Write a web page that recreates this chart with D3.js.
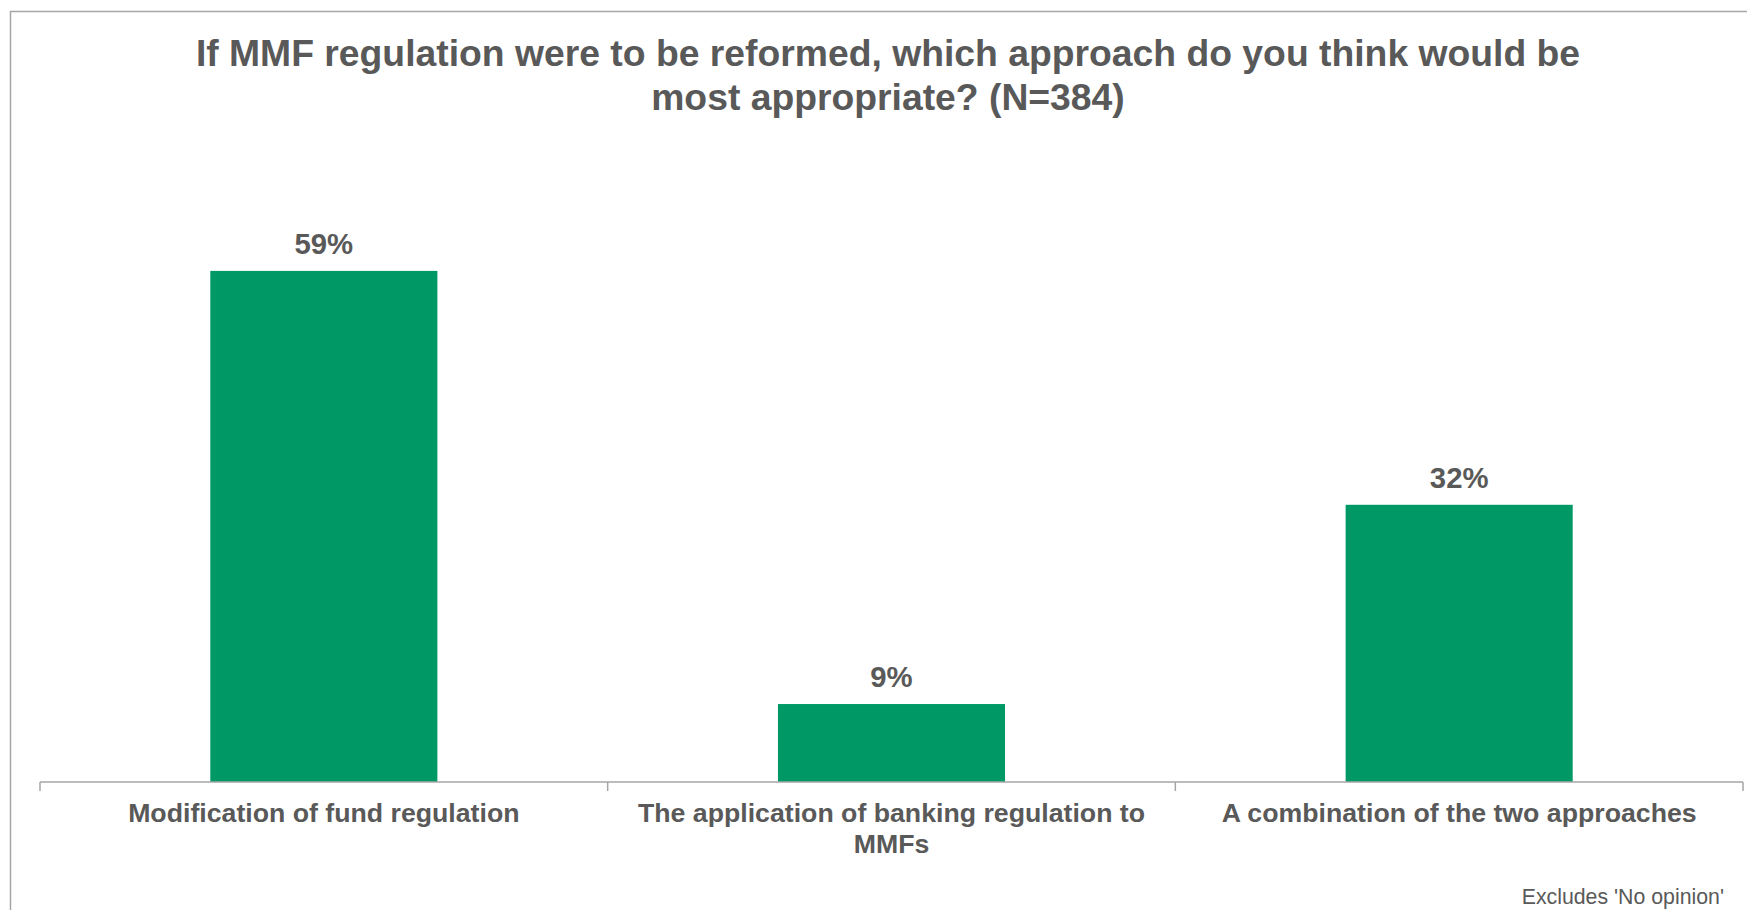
<!DOCTYPE html>
<html>
<head>
<meta charset="utf-8">
<script src="https://cdn.jsdelivr.net/npm/d3@7"></script>
<style>
  body { margin: 0; background: #fff; }
  svg { display: block; font-family: "Liberation Sans", Arial, sans-serif; }
</style>
</head>
<body>
<div id="chart"></div>
<script>
const titleLines = ['If MMF regulation were to be reformed, which approach do you think would be', 'most appropriate? (N=384)'];
const categories = ['Modification of fund regulation', 'The application of banking regulation to MMFs', 'A combination of the two approaches'];
const values = [59, 9, 32];
const footnote = "Excludes 'No opinion'";

const W = 1747, H = 910;
const margin = { top: 173, right: 4, bottom: 128, left: 40 };
const width = W - margin.left - margin.right;
const height = H - margin.top - margin.bottom;
const textColor = '#595959';

const svg = d3.select('#chart')
  .append('svg')
  .attr('width', W)
  .attr('height', H);

// outer frame (only top and left edges are visible in the picture)
svg.append('path')
  .attr('d', 'M10.5,' + H + ' V11.5 H' + W)
  .attr('fill', 'none')
  .attr('stroke', '#a6a6a6')
  .attr('stroke-width', 1.5);

svg.append('text')
  .attr('x', 888)
  .attr('y', 66)
  .attr('text-anchor', 'middle')
  .attr('fill', textColor)
  .style('font-size', '37.3px')
  .style('font-weight', 'bold')
  .selectAll('tspan')
  .data(titleLines)
  .join('tspan')
  .attr('x', 888)
  .attr('dy', (d, i) => i === 0 ? 0 : 44)
  .text(d => d);

const g = svg.append('g')
  .attr('transform', 'translate(' + margin.left + ', ' + margin.top + ')');

const x = d3.scaleBand()
  .domain(categories)
  .range([0, width])
  .padding(0);

const y = d3.scaleLinear()
  .domain([0, 70.3])
  .range([height, 0]);

const barW = x.bandwidth() * 0.4;

g.selectAll('.bar')
  .data(values)
  .join('rect')
  .attr('class', 'bar')
  .attr('x', (d, i) => x(categories[i]) + (x.bandwidth() - barW) / 2)
  .attr('y', d => y(d))
  .attr('width', barW)
  .attr('height', d => height - y(d))
  .attr('fill', '#009966');

g.selectAll('.val')
  .data(values)
  .join('text')
  .attr('class', 'val')
  .attr('x', (d, i) => x(categories[i]) + x.bandwidth() / 2)
  .attr('y', d => y(d) - 17)
  .attr('text-anchor', 'middle')
  .attr('fill', textColor)
  .style('font-size', '29.3px')
  .style('font-weight', 'bold')
  .text(d => d + '%');

// x axis with tick marks at band boundaries
const axis = g.append('g')
  .attr('transform', 'translate(0, ' + height + ')');

axis.append('line')
  .attr('x1', 0).attr('x2', width)
  .attr('stroke', '#a6a6a6').attr('stroke-width', 1.5);

const bounds = categories.map(c => x(c)).concat([width]);
axis.selectAll('.tick')
  .data(bounds)
  .join('line')
  .attr('class', 'tick')
  .attr('x1', d => d).attr('x2', d => d)
  .attr('y1', 0).attr('y2', 9)
  .attr('stroke', '#a6a6a6').attr('stroke-width', 1.5);

function wrapWords(text, maxW, ctx) {
  const words = text.split(' ');
  const lines = [];
  let line = '';
  words.forEach(w => {
    const t = line ? line + ' ' + w : w;
    if (ctx.measureText(t).width > maxW && line) {
      lines.push(line);
      line = w;
    } else {
      line = t;
    }
  });
  lines.push(line);
  return lines;
}

const ctx = document.createElement('canvas').getContext('2d');
ctx.font = 'bold 26.7px "Liberation Sans", Arial, sans-serif';

axis.selectAll('.cat')
  .data(categories)
  .join('text')
  .attr('class', 'cat')
  .attr('text-anchor', 'middle')
  .attr('fill', textColor)
  .style('font-size', '26.7px')
  .style('font-weight', 'bold')
  .each(function (d) {
    const lines = wrapWords(d, 530, ctx);
    d3.select(this).selectAll('tspan')
      .data(lines)
      .join('tspan')
      .attr('x', x(d) + x.bandwidth() / 2)
      .attr('y', (l, i) => 40 + i * 31)
      .text(l => l);
  });

svg.append('text')
  .attr('x', 1724)
  .attr('y', 904)
  .attr('text-anchor', 'end')
  .attr('fill', textColor)
  .style('font-size', '21.3px')
  .text(footnote);
</script>
</body>
</html>
